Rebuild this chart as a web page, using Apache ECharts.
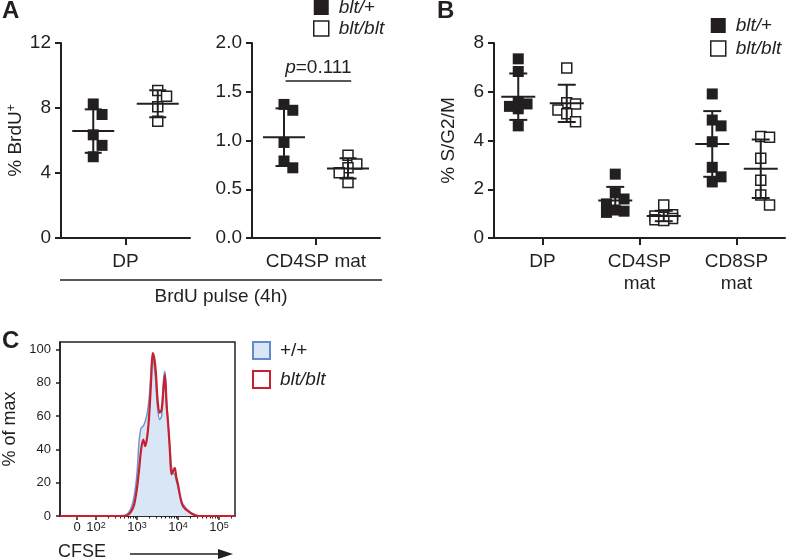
<!DOCTYPE html>
<html>
<head>
<meta charset="utf-8">
<script src="https://cdn.jsdelivr.net/npm/echarts@6/dist/echarts.min.js"></script>
<style>html,body{margin:0;background:#fff}#main{width:786px;height:560px}</style>
</head>
<body>
<div id="main"></div>
<script>
// panel A: % BrdU+ after a 4h pulse
var aCats = ['DP', 'CD4SP mat'];
var aHet = [[7.6, 8.25, 6.35, 5.7, 5.0], [1.31, 1.37, 0.98, 0.79, 0.72]];
var aHom = [[9.07, 8.72, 8.07, 7.18], [0.85, 0.76, 0.72, 0.67, 0.57]];
var aYMax = [12, 2.0];
var aYStep = [4, 0.5];

// panel B: % S/G2/M
var bCats = ['DP', 'CD4SP\nmat', 'CD8SP\nmat'];
var bHet = [[7.35, 6.83, 5.6, 5.5, 5.4, 5.3, 4.6], [2.62, 1.85, 1.6, 1.4, 1.15, 1.1, 1.05], [5.91, 4.84, 4.6, 3.95, 2.9, 2.51, 2.3]];
var bHom = [[6.97, 5.55, 5.5, 5.25, 5.1, 4.77], [1.35, 0.95, 0.9, 0.85, 0.8, 0.75, 0.72], [4.16, 4.13, 3.27, 2.37, 1.76, 1.35]];

// panel C: CFSE histogram, x in decades (10^x), "0" sits at 1.54
var cfseX  = [1.12, 2.6, 2.75, 2.85, 2.93, 3.0, 3.05, 3.1, 3.15, 3.2, 3.25, 3.3, 3.35, 3.38, 3.42, 3.46, 3.5, 3.55, 3.6, 3.64, 3.68, 3.72, 3.76, 3.8, 3.84, 3.88, 3.92, 3.96, 4.0, 4.05, 4.1, 4.17, 4.25, 4.33, 4.42, 4.5, 5.39];
var wtPct  = [0, 0, 1, 4.5, 12, 26, 45, 53, 54, 57, 62, 72, 90, 96, 90, 80, 65, 58, 60, 80, 87, 70, 55, 42, 30, 26, 25, 21, 17, 12, 8, 5.5, 3, 1.5, 0.6, 0, 0];
var bltPct = [0, 0, 0.3, 2.5, 7, 17, 28, 40, 46, 42, 48, 62, 85, 98, 95, 86, 70, 62, 64, 75, 85, 67, 55, 40, 25, 27, 29, 23, 19, 12, 7, 4.3, 3, 1.5, 0.5, 0, 0];
var cfseTicks = [1.54, 2, 3, 4, 5];
var cfseTickText = ['0', '10{s|2}', '10{s|3}', '10{s|4}', '10{s|5}'];
var pctTicks = [0, 20, 40, 60, 80, 100];

var ink = '#231f20';
var font = 'Liberation Sans, Arial, Helvetica, sans-serif';
var chart = echarts.init(document.getElementById('main'));

function meanSd(v) {
	var m = v.reduce(function (a, b) { return a + b; }, 0) / v.length;
	var s = Math.sqrt(v.reduce(function (a, b) { return a + (b - m) * (b - m); }, 0) / (v.length - 1));
	return [m, s];
}
// small beeswarm: at most 3 columns, pick the least crowded one, offsets in px
function swarm(vals, pxPerUnit, size) {
	var placed = [], out = [];
	var step = size * 0.8;
	var order = vals.map(function (v, i) { return i; }).sort(function (a, b) { return vals[b] - vals[a]; });
	order.forEach(function (i) {
		var y = vals[i] * pxPerUnit;
		var bestDx = 0, bestGap = -1;
		for (var k = 0; k < 3; k++) {
			var dx = k === 0 ? 0 : (k % 2 ? 1 : -1) * step;
			var gap = Infinity;
			placed.forEach(function (p) {
				if (Math.abs(p[0] - dx) < step - 0.01) gap = Math.min(gap, Math.abs(p[1] - y));
			});
			if (gap >= size) { bestDx = dx; bestGap = gap; break; }
			if (gap > bestGap) { bestGap = gap; bestDx = dx; }
		}
		placed.push([bestDx, y]);
		out[i] = bestDx;
	});
	return out;
}
function nearest(arr, v) {
	var best = 0;
	arr.forEach(function (a, i) { if (Math.abs(a - v) < Math.abs(arr[best] - v)) best = i; });
	return best;
}
function dots(name, grid, xs, groups, pxPerUnit, filled, extra) {
	var data = [];
	groups.forEach(function (vals, g) {
		var off = swarm(vals, pxPerUnit, 11);
		vals.forEach(function (v, i) { data.push({ value: [xs[g], v], symbolOffset: [off[i], 0] }); });
	});
	var s = {
		type: 'scatter', name: name, xAxisIndex: grid, yAxisIndex: grid, silent: true, z: 2,
		symbol: 'rect', symbolSize: filled ? 11 : 10,
		itemStyle: filled ? { color: ink, opacity: 1 } : { color: '#fff', borderColor: ink, borderWidth: 1.5, opacity: 1 },
		data: data
	};
	if (extra) s.markLine = extra;
	return s;
}
function bars(grid, xs, groups, meanW, capW) {
	return {
		type: 'custom', xAxisIndex: grid, yAxisIndex: grid, silent: true, z: 3,
		data: groups.map(function (vals, g) { var ms = meanSd(vals); return [xs[g], ms[0], ms[1]]; }),
		renderItem: function (params, api) {
			var x = api.value(0), m = api.value(1), s = api.value(2);
			var c = api.coord([x, m]), t = api.coord([x, m + s]), b = api.coord([x, m - s]);
			var st = { stroke: ink, lineWidth: 2 };
			return { type: 'group', children: [
				{ type: 'line', shape: { x1: c[0] - meanW / 2, y1: c[1], x2: c[0] + meanW / 2, y2: c[1] }, style: st },
				{ type: 'line', shape: { x1: c[0], y1: t[1], x2: c[0], y2: b[1] }, style: st },
				{ type: 'line', shape: { x1: c[0] - capW / 2, y1: t[1], x2: c[0] + capW / 2, y2: t[1] }, style: st },
				{ type: 'line', shape: { x1: c[0] - capW / 2, y1: b[1], x2: c[0] + capW / 2, y2: b[1] }, style: st }
			] };
		}
	};
}
function catAxis(grid, max, pos, names) {
	return {
		type: 'value', gridIndex: grid, min: 0, max: max,
		axisLine: { onZero: false, lineStyle: { color: ink, width: 2 } },
		axisTick: { show: true, customValues: pos, length: 7, lineStyle: { color: ink, width: 2 } },
		axisLabel: { customValues: pos, color: ink, fontSize: 19, lineHeight: 22, margin: 13, fontFamily: font,
			formatter: function (v) { return names[nearest(pos, v)]; } },
		splitLine: { show: false }
	};
}
function valAxis(grid, max, step, name, gap, fmt) {
	return {
		type: 'value', gridIndex: grid, min: 0, max: max, interval: step,
		axisLine: { show: true, onZero: false, lineStyle: { color: ink, width: 2 } },
		axisTick: { show: true, length: 6, lineStyle: { color: ink, width: 2 } },
		axisLabel: { color: ink, fontSize: 19, margin: 10, fontFamily: font, formatter: fmt },
		splitLine: { show: false },
		name: name, nameLocation: 'middle', nameGap: gap,
		nameTextStyle: { color: ink, fontSize: 19, fontFamily: font,
			rich: { s: { fontSize: 12, verticalAlign: 'top', lineHeight: 12, color: ink, fontFamily: font } } }
	};
}
function legendFmt(name) {
	if (name === 'blt/+') return '{i|blt/}+';
	if (name === 'blt/blt') return '{i|blt/blt}';
	return name;
}
function legendText(size) {
	return { color: ink, fontSize: size, fontFamily: font, padding: [0, 0, 0, 5],
		rich: { i: { fontStyle: 'italic', fontSize: size, color: ink, fontFamily: font } } };
}
var scatterLegend = [
	{ name: 'blt/+', icon: 'rect', itemStyle: { color: ink, borderWidth: 0, opacity: 1 } },
	{ name: 'blt/blt', icon: 'rect', itemStyle: { color: '#fff', borderColor: ink, borderWidth: 1.5, opacity: 1 } }
];

var pLine = {
	silent: true, symbol: ['none', 'none'],
	lineStyle: { color: ink, width: 1.5, type: 'solid' },
	label: { show: true, position: 'middle', distance: 4, formatter: '{i|p}=0.111', color: ink, fontSize: 19, fontFamily: font,
		rich: { i: { fontStyle: 'italic', fontSize: 19, color: ink, fontFamily: font } } },
	data: [[{ coord: [1.05, 1.61] }, { coord: [3.1, 1.61] }]]
};

var minorTicks = [];
[2, 3, 4, 5].forEach(function (d) {
	for (var k = 2; k <= 9; k++) { var p = d + Math.log10(k); if (p < 5.39) minorTicks.push(p); }
});

var option = {
	animation: false,
	textStyle: { fontFamily: font, color: ink },
	grid: [
		{ left: 61, top: 43, width: 129, height: 195 },
		{ left: 252, top: 43, width: 128, height: 195 },
		{ left: 494, top: 43, width: 291, height: 195 },
		{ left: 60, top: 342, width: 175, height: 174, show: true, borderColor: ink, borderWidth: 1.5, backgroundColor: 'transparent' }
	],
	legend: [
		{ left: 313, top: -2, padding: 0, orient: 'vertical', itemWidth: 15, itemHeight: 15, itemGap: 2, selectedMode: false,
			data: scatterLegend, formatter: legendFmt, textStyle: legendText(19) },
		{ left: 710, top: 16, padding: 0, orient: 'vertical', itemWidth: 15, itemHeight: 15, itemGap: 4, selectedMode: false,
			data: scatterLegend, formatter: legendFmt, textStyle: legendText(19) },
		{ left: 252, top: 341, padding: 0, orient: 'vertical', itemWidth: 17, itemHeight: 17, itemGap: 10, selectedMode: false,
			data: [
				{ name: '+/+', icon: 'rect', itemStyle: { color: '#d9e6f6', borderColor: '#5f8ccb', borderWidth: 2, opacity: 1 } },
				{ name: 'blt/blt', icon: 'rect', itemStyle: { color: '#fff', borderColor: '#c8202f', borderWidth: 2, opacity: 1 } }
			], formatter: legendFmt, textStyle: legendText(19) }
	],
	xAxis: [
		catAxis(0, 4, [2], [aCats[0]]),
		catAxis(1, 4, [2], [aCats[1]]),
		catAxis(2, 6, [1, 3, 5], bCats),
		{
			type: 'value', gridIndex: 3, position: 'bottom', min: 1.12, max: 5.39,
			axisLine: { onZero: false, lineStyle: { color: ink, width: 1.5 } },
			axisTick: { show: true, customValues: cfseTicks, length: 4, lineStyle: { color: ink, width: 1.5 } },
			axisLabel: { customValues: cfseTicks, color: ink, fontSize: 13, margin: 5, fontFamily: font,
				formatter: function (v) { return cfseTickText[nearest(cfseTicks, v)]; },
				rich: { s: { fontSize: 9, verticalAlign: 'top', lineHeight: 9, color: ink, fontFamily: font } } },
			splitLine: { show: false }
		},
		{
			type: 'value', gridIndex: 3, position: 'bottom', min: 1.12, max: 5.39,
			axisLine: { show: false, onZero: false },
			axisTick: { show: true, customValues: minorTicks, length: 2.5, lineStyle: { color: ink, width: 1 } },
			axisLabel: { show: false }, splitLine: { show: false }
		}
	],
	yAxis: [
		valAxis(0, aYMax[0], aYStep[0], '% BrdU{s|+}', 36),
		valAxis(1, aYMax[1], aYStep[1], '', 40, function (v) { return v.toFixed(1); }),
		valAxis(2, 8, 2, '% S/G2/M', 36),
		{
			type: 'value', gridIndex: 3, min: 0, max: 104.6,
			axisLine: { show: true, onZero: false, lineStyle: { color: ink, width: 1.5 } },
			axisTick: { show: true, customValues: pctTicks, length: 4, lineStyle: { color: ink, width: 1.5 } },
			axisLabel: { customValues: pctTicks, color: ink, fontSize: 13, margin: 9, fontFamily: font },
			splitLine: { show: false },
			name: '% of max', nameLocation: 'middle', nameGap: 41,
			nameTextStyle: { color: ink, fontSize: 18, fontFamily: font }
		}
	],
	series: [
		dots('blt/+', 0, [1], [aHet[0]], 195 / 12, true),
		dots('blt/blt', 0, [3], [aHom[0]], 195 / 12, false),
		bars(0, [1, 3], [aHet[0], aHom[0]], 42, 17),
		dots('blt/+', 1, [1], [aHet[1]], 195 / 2, true, pLine),
		dots('blt/blt', 1, [3], [aHom[1]], 195 / 2, false),
		bars(1, [1, 3], [aHet[1], aHom[1]], 42, 17),
		dots('blt/+', 2, [0.5, 2.5, 4.5], bHet, 195 / 8, true),
		dots('blt/blt', 2, [1.5, 3.5, 5.5], bHom, 195 / 8, false),
		bars(2, [0.5, 2.5, 4.5], bHet, 34, 18),
		bars(2, [1.5, 3.5, 5.5], bHom, 34, 18),
		{
			type: 'line', name: '+/+', xAxisIndex: 3, yAxisIndex: 3, silent: true,
			data: cfseX.map(function (x, i) { return [x, wtPct[i]]; }),
			symbol: 'none', smooth: 0.3,
			lineStyle: { color: '#6f95cf', width: 1.5 }, itemStyle: { color: '#6f95cf' },
			areaStyle: { color: '#d9e6f6', opacity: 1 }
		},
		{
			type: 'line', name: 'blt/blt', xAxisIndex: 3, yAxisIndex: 3, silent: true,
			data: cfseX.map(function (x, i) { return [x, bltPct[i]]; }),
			symbol: 'none', smooth: 0.3,
			lineStyle: { color: '#c8202f', width: 2.2 }, itemStyle: { color: '#c8202f' }
		}
	],
	graphic: [
		{ type: 'text', left: 2, top: -1, style: { text: 'A', fontSize: 24, fontWeight: 'bold', fill: ink, fontFamily: font } },
		{ type: 'text', left: 437, top: -1, style: { text: 'B', fontSize: 24, fontWeight: 'bold', fill: ink, fontFamily: font } },
		{ type: 'text', left: 2, top: 329, style: { text: 'C', fontSize: 24, fontWeight: 'bold', fill: ink, fontFamily: font } },
		{ type: 'line', shape: { x1: 60, y1: 280, x2: 382, y2: 280 }, style: { stroke: ink, lineWidth: 1.5 } },
		{ type: 'text', x: 221, y: 297, style: { text: 'BrdU pulse (4h)', fontSize: 19, fill: ink, fontFamily: font, align: 'center', verticalAlign: 'middle' } },
		{ type: 'text', x: 58, y: 552, style: { text: 'CFSE', fontSize: 18, fill: ink, fontFamily: font, align: 'left', verticalAlign: 'middle' } },
		{ type: 'line', shape: { x1: 130, y1: 554, x2: 222, y2: 554 }, style: { stroke: ink, lineWidth: 1.5 } },
		{ type: 'polygon', shape: { points: [[218, 549], [233, 554], [218, 559]] }, style: { fill: ink } }
	]
};
chart.setOption(option);
</script>
</body>
</html>
